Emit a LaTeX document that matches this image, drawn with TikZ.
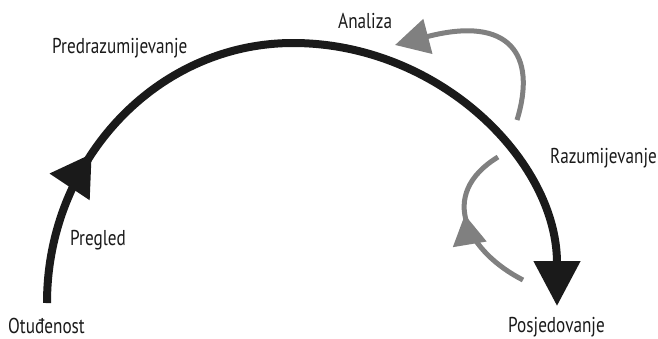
\documentclass[tikz,border=0pt]{standalone}
\usepackage{fontspec}
\setmainfont{PT Sans}[FakeStretch=0.8]
\usetikzlibrary{arrows.meta,decorations.markings}
\definecolor{inkdark}{HTML}{1A1A1A}
\definecolor{inkgray}{HTML}{808080}
\tikzset{
  label/.style={inner sep=0pt, anchor=base west, text=inkdark, font=\fontsize{21.5}{24}\selectfont},
  mainarc/.style={draw=inkdark, line width=8pt},
  loop/.style={draw=inkgray, line width=5pt},
}
\begin{document}
\begin{tikzpicture}[x=1pt,y=-1pt]
\useasboundingbox (0,0) rectangle (658,338);

% stage labels
\node[label] (otu) at (8,333) {Otuđenost};
\node[label] (pre) at (70,245) {Pregled};
\node[label] (pred) at (52,53) {Predrazumijevanje};
\node[label] (ana) at (338,28) {Analiza};
\node[label] (raz) at (550,163) {Razumijevanje};
\node[label] (pos) at (508,332) {Posjedovanje};

% main path of understanding
\coordinate (bS) at (47,303);
\coordinate (bT) at (293,43);
\coordinate (bE) at (557,306);
\draw[mainarc, -{Triangle[length=45pt,width=45pt]},
  postaction={decorate, decoration={markings,
    mark=at position 0.195 with {\arrow[inkdark]{Triangle[length=40pt,width=46pt]}}}}]
  (bS) .. controls +(0,-143) and +(-136,0) .. (bT)
       .. controls +(146,0) and +(0,-145) .. (bE);

% upper feedback loop
\coordinate (uS) at (517,120);
\coordinate (uE) at (395,45);
\draw[loop, -{Triangle[length=34pt,width=35pt]}]
  (uS) .. controls +(20,-65) and +(115,-30) .. (uE);

% lower feedback loop
\coordinate (lS) at (523,280);
\coordinate (lE) at (498,157);
\draw[loop,
  postaction={decorate, decoration={markings,
    mark=at position 0.56 with {\arrow[inkgray]{Triangle[length=30pt,width=33pt]}}}}]
  (lS) .. controls +(-55,-28) and +(-62,38) .. (lE);
\end{tikzpicture}
\end{document}
